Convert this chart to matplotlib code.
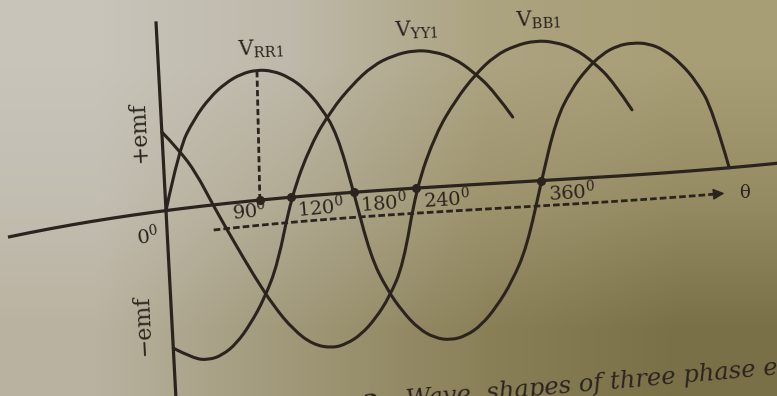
import numpy as np
import matplotlib
matplotlib.use("Agg")
import matplotlib.pyplot as plt
from matplotlib.path import Path
from matplotlib.patches import PathPatch

plt.rcParams["font.family"] = ["DejaVu Serif"]
plt.rcParams["mathtext.fontset"] = "dejavuserif"

# sampled wave shapes: angle in degrees, emf relative to the peak value
r_theta = [0, 15, 30, 45, 60, 75, 90, 105, 120, 135, 150, 165, 180,
           195, 210, 225, 240, 255, 270, 285, 300, 315, 330, 345, 360,
           375, 390, 405, 420, 435, 450, 465, 480, 495, 510, 525, 540]
r_emf = [0, .43, .64, .79, .89, .95, .97, .95, .89, .79, .64, .43, 0,
         -.44, -.66, -.81, -.92, -.98, -1.0, -.98, -.92, -.81, -.66, -.44, 0,
         .43, .65, .80, .91, .97, .985, .97, .91, .80, .65, .43, 0]

y_theta = [0, 20.7, 36, 50, 64, 78, 92, 106, 120,
           140.1, 160.2, 180.3, 200.4, 220.4, 240.5,
           259.3, 278, 296.8, 315.5, 333.6]
y_emf = [-.90, -.98, -1.0, -.98, -.92, -.81, -.66, -.44, 0,
         .37, .61, .79, .93, 1.0, 1.03,
         1.01, .95, .83, .68, .47]

b_theta = [0, 15, 30, 45, 63.7, 82.3, 101, 119.7, 138.3, 157,
           170.8, 184.7, 198.5, 212.3, 226.2, 240,
           259.5, 278.9, 298.4, 317.8, 337.3, 356.7,
           375.2, 393.7, 412.2, 430.7, 447.9]
b_emf = [.57, .42, .24, 0, -.26, -.50, -.71, -.87, -.97, -1.0,
         -.98, -.93, -.84, -.71, -.51, 0,
         .38, .62, .81, .95, 1.02, 1.05,
         1.03, .97, .85, .69, .47]

wave_names = ["RR1", "YY1", "BB1"]
# angle of the crest each name is written over
name_deg = [90, 240.5, 356.7]
tick_deg = [90, 120, 180, 240, 360]

# paper tone over the page, rows top to bottom, columns left to right
paper_rows = [
    [(200, 196, 186), (190, 185, 170), (172, 163, 128), (168, 158, 118)],
    [(195, 190, 178), (178, 171, 148), (158, 148, 110), (150, 140, 100)],
    [(185, 178, 160), (160, 152, 120), (138, 128, 88), (122, 112, 72)],
]

INK = "#2b231e"
W, H = 777, 396

# theta runs along a slightly bowed base line, emf leans a little to the left
X0, PX_PER_DEG = 166, 1.043
UP, DOWN = 134, 154
base = np.polyfit([10, 165, 450, 777], [236.7, 210.7, 186.0, 163.3], 3)
slope = np.polyder(base)


def lift(v):
    c = (DOWN - UP) / (DOWN + UP)
    v = np.asarray(v, float)
    return UP * (1 + c) * v / (1 + c * v)


def to_page(theta, v):
    x0 = X0 + PX_PER_DEG * np.asarray(theta, float)
    h = lift(v)
    lean = 0.018 + 0.035 * np.exp(-(x0 - X0) / 45.0)
    return x0 - lean * h, np.polyval(base, x0) - h


def point(theta, v):
    x, y = to_page(theta, v)
    return float(x), float(y)


def axis_angle(theta):
    x0 = X0 + PX_PER_DEG * theta
    return np.degrees(np.arctan(-np.polyval(slope, x0)))


def wave_path(theta, emf):
    x, y = to_page(theta, emf)
    pts = np.column_stack([x, y])
    verts, codes = [pts[0]], [Path.MOVETO]
    for i in range(1, len(pts) - 1):
        end = pts[i + 1] if i == len(pts) - 2 else (pts[i] + pts[i + 1]) / 2
        verts += [pts[i], end]
        codes += [Path.CURVE3, Path.CURVE3]
    return Path(verts, codes)


fig = plt.figure(figsize=(W / 100, H / 100), dpi=100)
ax = fig.add_axes([0, 0, 1, 1])
ax.set_xlim(0, W)
ax.set_ylim(H, 0)
ax.axis("off")

ax.imshow(np.array(paper_rows, dtype=np.uint8), extent=(0, W, H, 0),
          aspect="auto", interpolation="bilinear", zorder=0)

# theta axis and emf axis
th = np.linspace(-150, 590, 300)
ax.plot(*to_page(th, np.zeros_like(th)), color=INK, lw=2.3, zorder=3)
vv = np.linspace(-1.3, 1.44, 60)
ax.plot(*to_page(np.zeros_like(vv), vv), color=INK, lw=2.3, zorder=3)

# the three phase waves
waves = list(zip([r_theta, y_theta, b_theta], [r_emf, y_emf, b_emf]))
for theta, emf in waves:
    ax.add_patch(PathPatch(wave_path(theta, emf), fill=False, ec=INK,
                           lw=2.2, capstyle="round", zorder=4))

# dashed theta arrow below the axis
v_dash = -0.173
th_d = np.linspace(45, 527, 120)
ax.plot(*to_page(th_d, np.full_like(th_d, v_dash)), color=INK, lw=2.0,
        dashes=(2.4, 1.1), zorder=3)
ax.annotate("", xy=point(535, v_dash), xytext=point(524, v_dash),
            arrowprops=dict(arrowstyle="-|>", color=INK, lw=1,
                            mutation_scale=17, shrinkA=0, shrinkB=0))
ax.annotate("\u03b8", xy=point(535, v_dash), xytext=(20, 0),
            textcoords="offset pixels", ha="center", va="center",
            fontsize=13, color=INK)

# dashed line from the axis up to the peak of V_RR1
r_peak = r_emf[r_theta.index(90)]
ax.plot(*to_page([90, 90], [0, r_peak]), color=INK, lw=2.0,
        dashes=(2.2, 1.2), zorder=3)

# angle marks
ax.plot(*to_page(tick_deg, np.zeros(len(tick_deg))), "o", ms=5.5,
        color=INK, zorder=5)
for deg in tick_deg:
    dx = -27 if deg == 90 else 7
    ax.annotate(f"{deg}$^0$", xy=point(deg, 0), xytext=(dx, -20),
                textcoords="offset pixels", ha="left", va="baseline",
                fontsize=14, color=INK, rotation=axis_angle(deg),
                rotation_mode="anchor")
ax.annotate("0$^0$", xy=point(0, 0), xytext=(-6, -31),
            textcoords="offset pixels", ha="right", va="baseline",
            fontsize=14, color=INK, rotation=axis_angle(0),
            rotation_mode="anchor")

# wave names above each crest
for name, deg, (theta, emf) in zip(wave_names, name_deg, waves):
    crest = emf[theta.index(deg)]
    ax.annotate("V$_{\\mathregular{" + name + "}}$",
                xy=point(deg, crest), xytext=(-20, 14),
                textcoords="offset pixels", ha="left", va="baseline",
                fontsize=15, color=INK, rotation=2)

# emf axis labels
ax.annotate("+emf", xy=point(0, 0.57), xytext=(-23, 0),
            textcoords="offset pixels", ha="center", va="center",
            fontsize=16, color=INK, rotation=93)
ax.annotate("\u2212emf", xy=point(0, -0.756), xytext=(-29, 0),
            textcoords="offset pixels", ha="center", va="center",
            fontsize=16, color=INK, rotation=93)

# caption running off the bottom of the page
ax.text(310, 415, "Fig. 3", fontsize=16, fontweight="bold", color=INK,
        ha="left", va="baseline", rotation=5, rotation_mode="anchor")
ax.text(407, 407, "Wave  shapes of three phase emf", fontsize=17.5,
        style="italic", color=INK, ha="left", va="baseline", rotation=5,
        rotation_mode="anchor")

fig.savefig("out.png", dpi=100)
